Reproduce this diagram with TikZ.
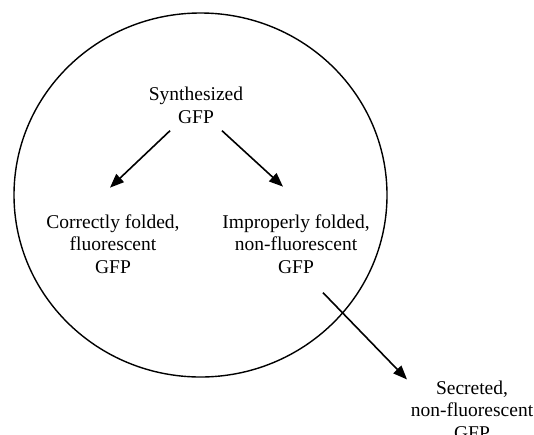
\documentclass[tikz,border=0pt]{standalone}
\usepackage{fontspec}
\setmainfont{Liberation Serif}
\usetikzlibrary{arrows.meta}
\usetikzlibrary{calc}

\begin{document}
\begin{tikzpicture}[x=1pt,y=-1pt,
	label/.style={align=center, inner sep=0pt, font=\fontsize{19.5}{22.5}\selectfont},
	arr/.style={line width=1.6pt, -{Triangle[length=14pt,width=11pt]}}]
	\useasboundingbox (0,0) rectangle (534,434);

	% Cell
	\draw[line width=1.4pt] (200.5,195) ellipse [x radius=186.5, y radius=182];

	% Labels
	\node[label] (syn) at (196,105.4) {Synthesized\\GFP};
	\node[label] (corr) at (113,244) {Correctly folded,\\fluorescent\\GFP};
	\node[label] (imp) at (296,244) {Improperly folded,\\non-fluorescent\\GFP};
	\node[label] (sec) at (472,410) {Secreted,\\non-fluorescent\\GFP};

	% Arrows
	\draw[arr] ($(syn.south)+(-26,7)$) -- ($(corr.north)+(-3,-26.7)$);
	\draw[arr] ($(syn.south)+(26,7)$) -- ($(imp.north)+(-13,-27.7)$);
	\draw[arr] ($(imp.south)+(27,19)$) -- ($(sec.north)+(-65,-1)$);
\end{tikzpicture}
\end{document}
